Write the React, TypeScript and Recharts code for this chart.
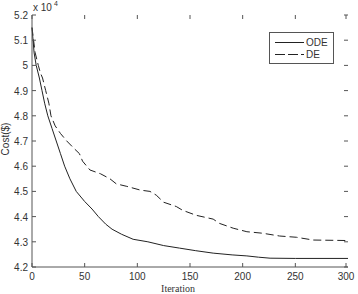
import React from 'react';
import { LineChart, Line, XAxis, YAxis } from 'recharts';

// cost values are in units of 10^4 $
const odeIter = [0, 2, 4, 7, 9.5, 12, 15, 19, 23, 27, 31, 36, 42, 50, 57, 63, 70, 76, 85, 96, 110, 125, 140, 155, 172, 190, 204, 215, 226, 250, 300];
const odeCost = [5.15, 5.05, 5.0, 4.95, 4.9, 4.85, 4.8, 4.75, 4.7, 4.65, 4.6, 4.55, 4.5, 4.46, 4.43, 4.4, 4.37, 4.35, 4.33, 4.31, 4.3, 4.285, 4.275, 4.265, 4.255, 4.248, 4.244, 4.239, 4.235, 4.234, 4.234];

const deIter = [0, 3, 6, 8, 10, 13, 16, 18, 22, 27, 33, 40, 45, 48, 55, 65, 74, 80, 90, 103, 112, 118, 125, 137, 143, 156, 172, 178, 191, 204, 219, 235, 251, 267, 300];
const deCost = [5.15, 5.05, 5.0, 4.97, 4.95, 4.9, 4.85, 4.8, 4.76, 4.73, 4.7, 4.67, 4.65, 4.62, 4.585, 4.57, 4.55, 4.53, 4.52, 4.505, 4.5, 4.485, 4.457, 4.44, 4.425, 4.405, 4.39, 4.373, 4.354, 4.34, 4.334, 4.323, 4.318, 4.307, 4.305];

const xTicks = [0, 50, 100, 150, 200, 250, 300];
const yTicks = [4.2, 4.3, 4.4, 4.5, 4.6, 4.7, 4.8, 4.9, 5, 5.1, 5.2];

const odeData = odeIter.map((iter, i) => ({ iter, cost: odeCost[i] }));
const deData = deIter.map((iter, i) => ({ iter, cost: deCost[i] }));

const W = 358;
const H = 294;
const LEFT = 32;
const TOP = 15;
const RIGHT = 348;
const BOTTOM = 267;
const AXIS = '#555';
const TXT = '#333';
const SANS = 'Liberation Sans, Arial, sans-serif';

const LeftTick = (props: any) => {
  const { y, payload } = props;
  return (
    <g>
      <line x1={LEFT} x2={LEFT + 4} y1={y} y2={y} stroke={AXIS} />
      <line x1={RIGHT} x2={RIGHT - 4} y1={y} y2={y} stroke={AXIS} />
      <text x={LEFT - 4} y={y + 4} textAnchor="end" fontSize={10} fontFamily={SANS} fill={TXT}>
        {String(payload.value)}
      </text>
    </g>
  );
};

const BottomTick = (props: any) => {
  const { x, payload } = props;
  return (
    <g>
      <line x1={x} x2={x} y1={BOTTOM} y2={BOTTOM - 4} stroke={AXIS} />
      <line x1={x} x2={x} y1={TOP} y2={TOP + 4} stroke={AXIS} />
      <text x={x} y={BOTTOM + 13} textAnchor="middle" fontSize={10} fontFamily={SANS} fill={TXT}>
        {String(payload.value)}
      </text>
    </g>
  );
};

const LG_X = 269;
const LG_Y = 32;

export default function App() {
  return (
    <div style={{ position: 'absolute', left: 0, top: 0, width: W, height: H, background: '#fff' }}>
      <LineChart width={W} height={H} margin={{ top: TOP, right: W - RIGHT, bottom: 0, left: 0 }}>
        <XAxis
          xAxisId="b"
          dataKey="iter"
          type="number"
          domain={[0, 300]}
          ticks={xTicks}
          height={H - BOTTOM}
          stroke={AXIS}
          tickLine={false}
          tick={<BottomTick />}
        />
        <XAxis
          xAxisId="t"
          orientation="top"
          type="number"
          domain={[0, 300]}
          ticks={xTicks}
          height={0}
          stroke={AXIS}
          tickLine={false}
          tick={false}
        />
        <YAxis
          yAxisId="l"
          type="number"
          domain={[4.2, 5.2]}
          ticks={yTicks}
          width={LEFT}
          stroke={AXIS}
          tickLine={false}
          tick={<LeftTick />}
        />
        <YAxis
          yAxisId="r"
          orientation="right"
          type="number"
          domain={[4.2, 5.2]}
          ticks={yTicks}
          width={0}
          stroke={AXIS}
          tickLine={false}
          tick={false}
        />
        <Line
          xAxisId="b"
          yAxisId="l"
          data={odeData}
          dataKey="cost"
          name="ODE"
          type="linear"
          stroke="#222"
          strokeWidth={1}
          dot={false}
          isAnimationActive={false}
        />
        <Line
          xAxisId="b"
          yAxisId="l"
          data={deData}
          dataKey="cost"
          name="DE"
          type="linear"
          stroke="#222"
          strokeWidth={1}
          strokeDasharray="8 4"
          dot={false}
          isAnimationActive={false}
        />
        <g>
          <rect x={LG_X + 0.5} y={LG_Y + 0.5} width={64} height={31} fill="#fff" stroke={AXIS} />
          <line x1={LG_X + 6} x2={LG_X + 35} y1={LG_Y + 10.5} y2={LG_Y + 10.5} stroke="#222" />
          <text x={LG_X + 37} y={LG_Y + 14} fontSize={10} fontFamily={SANS} fill={TXT}>ODE</text>
          <line x1={LG_X + 6} x2={LG_X + 35} y1={LG_Y + 22.5} y2={LG_Y + 22.5} stroke="#222" strokeDasharray="10 3" />
          <text x={LG_X + 37} y={LG_Y + 26} fontSize={10} fontFamily={SANS} fill={TXT}>DE</text>
        </g>
        <text x={33} y={11} fontSize={10} fontFamily={SANS} fill={TXT}>x 10</text>
        <text x={54} y={6} fontSize={7} fontFamily={SANS} fill={TXT}>4</text>
        <text
          x={9}
          y={139}
          transform="rotate(-90 9 139)"
          textAnchor="middle"
          fontSize={10}
          fontFamily={SANS}
          fill={TXT}
        >
          Cost($)
        </text>
        <text x={178} y={292} textAnchor="middle" fontSize={10} fontFamily="Liberation Serif, Times New Roman, serif" fill={TXT}>
          Iteration
        </text>
      </LineChart>
    </div>
  );
}
